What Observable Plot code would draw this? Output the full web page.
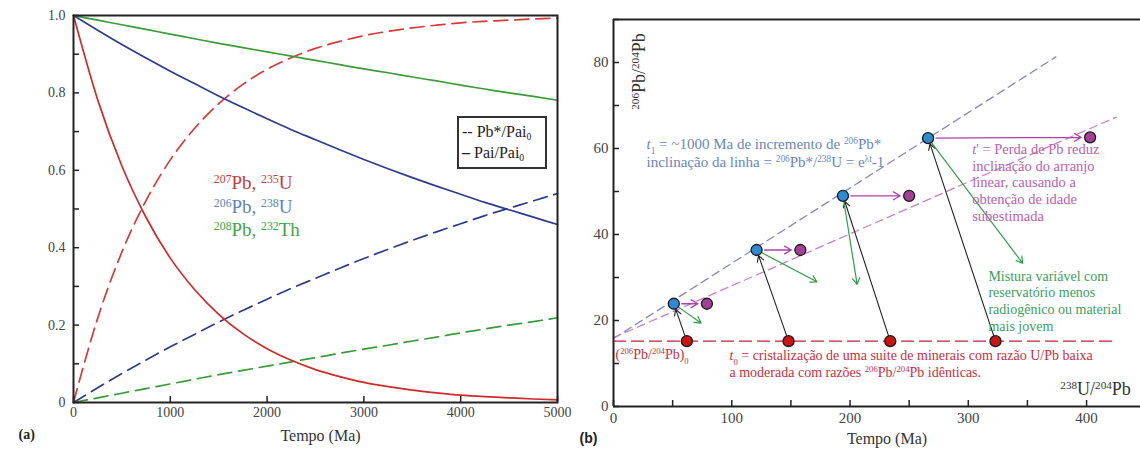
<!DOCTYPE html>
<html>
<head>
<meta charset="utf-8">
<script src="https://cdn.jsdelivr.net/npm/d3@7"></script>
<script src="https://cdn.jsdelivr.net/npm/@observablehq/plot@0.6"></script>
<style>
  html, body { margin: 0; padding: 0; background: #fff; }
  #wrap { position: relative; width: 1140px; height: 453px; overflow: hidden; background: #fff; }
  #left, #right { position: absolute; top: 0; }
  #left { left: 0; }
  #right { left: 570px; }
  svg { display: block; }
  #legend { position: absolute; left: 457px; top: 116px; width: 90px; height: 53px; box-sizing: border-box;
    border: 2px solid #333; background: #fff; font-family: "Liberation Serif", serif; font-size: 16px;
    color: #222; padding: 3px 0 0 3px; line-height: 21px; }
  #legend sub { font-size: 60%; vertical-align: -0.35em; line-height: 0; }
</style>
</head>
<body>
<div id="wrap">
  <div id="left"></div>
  <div id="right"></div>
  <div id="legend"><div>-- Pb*/Pai<sub>0</sub></div><div><b>–</b> Pai/Pai<sub>0</sub></div></div>
</div>
<script>
// ---------- Panel (a): decay curves ----------
const tempoMa = [0,250,500,750,1000,1250,1500,1750,2000,2250,2500,2750,3000,3250,3500,3750,4000,4250,4500,4750,5000];
const u235Parent   = [1,0.782,0.611,0.478,0.373,0.292,0.228,0.178,0.139,0.109,0.085,0.067,0.052,0.041,0.032,0.025,0.019,0.015,0.012,0.009,0.007];
const u235Daughter = [0,0.218,0.389,0.522,0.627,0.708,0.772,0.822,0.861,0.891,0.915,0.933,0.948,0.959,0.968,0.975,0.981,0.985,0.988,0.991,0.993];
const u238Parent   = [1,0.962,0.925,0.890,0.856,0.824,0.792,0.762,0.733,0.705,0.679,0.653,0.628,0.604,0.581,0.559,0.538,0.517,0.498,0.479,0.460];
const u238Daughter = [0,0.038,0.075,0.110,0.144,0.176,0.208,0.238,0.267,0.295,0.321,0.347,0.372,0.396,0.419,0.441,0.462,0.483,0.502,0.521,0.540];
const th232Parent  = [1,0.988,0.976,0.964,0.952,0.940,0.928,0.917,0.906,0.895,0.884,0.873,0.862,0.852,0.841,0.831,0.820,0.810,0.800,0.791,0.781];
const th232Daughter= [0,0.012,0.024,0.036,0.048,0.060,0.072,0.083,0.094,0.105,0.116,0.127,0.138,0.148,0.159,0.169,0.180,0.190,0.200,0.209,0.219];
const leftXTicks = [0,1000,2000,3000,4000,5000];
const leftYLabels = [0,0.2,0.4,0.6,0.8,1.0];
const leftYTicks = [0,0.1,0.2,0.3,0.4,0.5,0.6,0.7,0.8,0.9,1.0];
const seriesLabels = ["^{207}Pb, ^{235}U", "^{206}Pb, ^{238}U", "^{208}Pb, ^{232}Th"];

// ---------- Panel (b): isochron diagram ----------
const t0UPb  = [62, 148, 234, 323];
const t0PbPb = [15.2, 15.2, 15.2, 15.2];
const t1UPb  = [51, 121, 194, 266];
const t1PbPb = [23.9, 36.4, 49, 62.4];
const lossUPb  = [79, 158, 250, 403];
const lossPbPb = [23.9, 36.4, 49, 62.6];
const mixUPb  = [74, 172, 206, 346];
const mixPbPb = [19.4, 29, 28.4, 33.3];
const isoT1X = [0, 374], isoT1Y = [15.8, 81.3];
const isoLossX = [0, 425], isoLossY = [16, 67.3];
const isoT0X = [0, 425], isoT0Y = [15.2, 15.2];
const rightXLabels = [0,100,200,300,400];
const rightXTicks = [0,50,100,150,200,250,300,350,400];
const rightYLabels = [0,20,40,60,80];
const rightYTicks = [0,10,20,30,40,50,60,70,80,90];

const SERIF = '"Liberation Serif", "Times New Roman", serif';
const idx4 = [0,1,2,3];

function richify(root) {
  const re = /([\^_%])\{([^}]*)\}/g;
  root.querySelectorAll("text, tspan").forEach(el => {
    if (el.children.length) return;
    const s = el.textContent;
    if (!/[\^_%]\{/.test(s)) return;
    el.textContent = "";
    let last = 0, m;
    re.lastIndex = 0;
    while ((m = re.exec(s))) {
      if (m.index > last) el.appendChild(document.createTextNode(s.slice(last, m.index)));
      const t = document.createElementNS("http://www.w3.org/2000/svg", "tspan");
      if (m[1] === "^") { t.setAttribute("baseline-shift", "super"); t.setAttribute("font-size", "62%"); }
      else if (m[1] === "_") { t.setAttribute("baseline-shift", "sub"); t.setAttribute("font-size", "62%"); }
      else t.setAttribute("font-style", "italic");
      t.textContent = m[2];
      el.appendChild(t);
      last = re.lastIndex;
    }
    if (last < s.length) el.appendChild(document.createTextNode(s.slice(last)));
  });
}

const fmt = d => d === 0 ? "0" : (Number.isInteger(d) && d > 1 ? String(d) : d.toFixed(1));

// ---------- Left plot ----------
const RED = "#d02b2b", BLUE = "#2f3b8e", GREEN = "#3a9b3a";
const left = Plot.plot({
  width: 570, height: 453,
  marginLeft: 73, marginRight: 13, marginTop: 15, marginBottom: 51,
  x: {domain: [0, 5000]},
  y: {domain: [0, 1]},
  style: {fontFamily: SERIF, fontSize: "14px", color: "#333", background: "transparent", overflow: "visible"},
  marks: [
    Plot.line(tempoMa, {x: tempoMa, y: u235Daughter, stroke: "#d63a3a", strokeWidth: 1.7, strokeDasharray: "14,7", curve: "monotone-x"}),
    Plot.line(tempoMa, {x: tempoMa, y: u238Daughter, stroke: BLUE, strokeWidth: 1.7, strokeDasharray: "14,7", curve: "monotone-x"}),
    Plot.line(tempoMa, {x: tempoMa, y: th232Daughter, stroke: GREEN, strokeWidth: 1.7, strokeDasharray: "14,7", curve: "monotone-x"}),
    Plot.line(tempoMa, {x: tempoMa, y: u235Parent, stroke: RED, strokeWidth: 1.7, curve: "monotone-x"}),
    Plot.line(tempoMa, {x: tempoMa, y: u238Parent, stroke: BLUE, strokeWidth: 1.7, curve: "monotone-x"}),
    Plot.line(tempoMa, {x: tempoMa, y: th232Parent, stroke: GREEN, strokeWidth: 1.7, curve: "monotone-x"}),
    Plot.text(seriesLabels, {x: [1450, 1450, 1450], y: [0.567, 0.506, 0.447], text: d => d,
      fill: ["#c43c3c", "#5e82bd", "#44a444"], textAnchor: "start", fontSize: 19, fontFamily: SERIF}),
    Plot.axisX({ticks: leftXTicks, tickSize: 0, tickPadding: 5, tickFormat: fmt, label: null, fontSize: 14, fill: "#444", fontFamily: SERIF}),
    Plot.axisX({ticks: leftXTicks, tickSize: 6, dy: -6, tickFormat: () => "", label: null, stroke: "#222", strokeWidth: 1.5}),
    Plot.axisY({ticks: leftYLabels, tickSize: 0, tickPadding: 8, tickFormat: fmt, label: null, fontSize: 14, fill: "#444", fontFamily: SERIF}),
    Plot.axisY({ticks: leftYTicks, tickSize: 6, dx: 6, tickFormat: () => "", label: null, stroke: "#222", strokeWidth: 1.5}),
    Plot.frame({stroke: "#222", strokeWidth: 2}),
    Plot.text(["Tempo (Ma)"], {frameAnchor: "bottom", dx: 5, dy: 38, fontSize: 16, fill: "#333", fontFamily: SERIF}),
    Plot.text(["(a)"], {frameAnchor: "bottom-left", dx: -55, dy: 36, textAnchor: "start", fontSize: 14, fontWeight: "bold", fill: "#222", fontFamily: SERIF})
  ]
});
richify(left);
document.getElementById("left").appendChild(left);

// ---------- Right plot ----------
const right = Plot.plot({
  width: 570, height: 453,
  marginLeft: 43, marginRight: 0, marginTop: 19, marginBottom: 47,
  x: {domain: [0, 445.6]},
  y: {domain: [0, 90]},
  style: {fontFamily: SERIF, fontSize: "15px", color: "#333", background: "transparent", overflow: "visible"},
  marks: [
    Plot.line(isoT1X, {x: isoT1X, y: isoT1Y, stroke: "#8486c6", strokeWidth: 1.3, strokeDasharray: "8,5"}),
    Plot.line(isoLossX, {x: isoLossX, y: isoLossY, stroke: "#c97fc9", strokeWidth: 1.3, strokeDasharray: "8,5"}),
    Plot.line(isoT0X, {x: isoT0X, y: isoT0Y, stroke: "#b3263f", strokeWidth: 1.3, strokeDasharray: "12,6"}),
    Plot.arrow(idx4, {x1: t0UPb, y1: t0PbPb, x2: t1UPb, y2: t1PbPb, stroke: "#222", strokeWidth: 1.1, headLength: 9, insetEnd: 6}),
    Plot.arrow(idx4, {x1: t1UPb, y1: t1PbPb, x2: lossUPb, y2: lossPbPb, stroke: "#b040a8", strokeWidth: 1.3, headLength: 9, insetStart: 8, insetEnd: 9}),
    Plot.arrow(idx4, {x1: t1UPb, y1: t1PbPb, x2: mixUPb, y2: mixPbPb, stroke: "#2f9e48", strokeWidth: 1.2, headLength: 9, insetStart: 5}),
    Plot.dot(idx4, {x: t0UPb, y: t0PbPb, r: 5.5, fill: "#cc1414", stroke: "#1a1a1a", strokeWidth: 1.3}),
    Plot.dot(idx4, {x: t1UPb, y: t1PbPb, r: 5.5, fill: "#2b8cd4", stroke: "#1a1a1a", strokeWidth: 1.3}),
    Plot.dot(idx4, {x: lossUPb, y: lossPbPb, r: 5.5, fill: "#a33f97", stroke: "#1a1a1a", strokeWidth: 1.3}),
    Plot.ruleX([0], {stroke: "#222", strokeWidth: 2}),
    Plot.ruleY([0, 90], {stroke: "#222", strokeWidth: 2}),
    Plot.axisX({ticks: rightXLabels, tickSize: 0, tickPadding: 6, tickFormat: fmt, label: null, fontSize: 15, fill: "#444", fontFamily: SERIF}),
    Plot.axisX({ticks: rightXTicks, tickSize: 6, dy: -6, tickFormat: () => "", label: null, stroke: "#222", strokeWidth: 1.5}),
    Plot.axisY({ticks: rightYLabels, tickSize: 0, tickPadding: 5, tickFormat: fmt, label: null, fontSize: 15, fill: "#444", fontFamily: SERIF}),
    Plot.axisY({ticks: rightYTicks, tickSize: 6, dx: 6, tickFormat: () => "", label: null, stroke: "#222", strokeWidth: 1.5}),
    Plot.text(["%{t}_{1} = ~1000 Ma de incremento de ^{206}Pb*\ninclinação da linha = ^{206}Pb*/^{238}U = e^{λt}-1"],
      {x: [27.9], y: [59.1], text: d => d, textAnchor: "start", lineHeight: 1.22, fontSize: 15, fill: "#6787bf", fontFamily: SERIF}),
    Plot.text(["%{t}' = Perda de Pb reduz\ninclinação do arranjo\nlinear, causando a\nobtenção de idade\nsubestimada"],
      {x: [303.3], y: [52.2], text: d => d, textAnchor: "start", lineHeight: 1.17, fontSize: 14.5, fill: "#b862ad", fontFamily: SERIF}),
    Plot.text(["Mistura variável com\nreservatório menos\nradiogênico ou material\nmais jovem"],
      {x: [317], y: [24.7], text: d => d, textAnchor: "start", lineHeight: 1.19, fontSize: 14, fill: "#3e9e5e", fontFamily: SERIF}),
    Plot.text(["%{t}_{0} = cristalização de uma suite de minerais com razão U/Pb baixa\na moderada com razões ^{206}Pb/^{204}Pb idênticas."],
      {x: [98.1], y: [10.1], text: d => d, textAnchor: "start", lineHeight: 1.2, fontSize: 14, fill: "#c83040", fontFamily: SERIF}),
    Plot.text(["(^{206}Pb/^{204}Pb)_{0}"], {x: [1.7], y: [12.1], text: d => d, textAnchor: "start", fontSize: 14, fill: "#c83040", fontFamily: SERIF}),
    Plot.text(["^{238}U/^{204}Pb"], {x: [407.6], y: [4.0], text: d => d, textAnchor: "middle", fontSize: 18, fill: "#333", fontFamily: SERIF}),
    Plot.text(["^{206}Pb/^{204}Pb"], {x: [22], y: [77.9], text: d => d, textAnchor: "middle", rotate: -90, fontSize: 18, fill: "#333", fontFamily: SERIF}),
    Plot.text(["Tempo (Ma)"], {frameAnchor: "bottom", dx: 10, dy: 37, fontSize: 16, fill: "#333", fontFamily: SERIF}),
    Plot.text(["(b)"], {frameAnchor: "bottom-left", dx: -34, dy: 36, textAnchor: "start", fontSize: 14,
      fontFamily: '"Liberation Sans", Arial, sans-serif', fontWeight: "bold", fill: "#222"})
  ]
});
richify(right);
document.getElementById("right").appendChild(right);
</script>
</body>
</html>
